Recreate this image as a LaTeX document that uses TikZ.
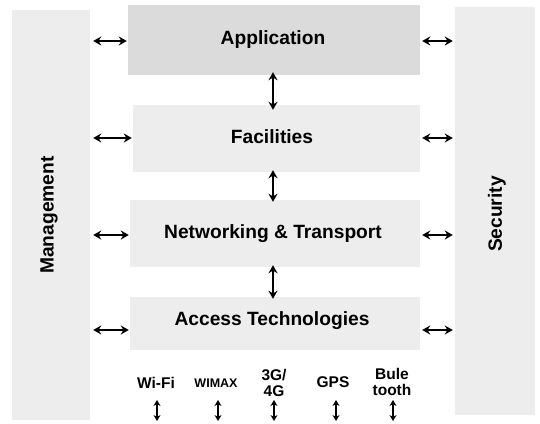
\documentclass[tikz,border=0pt]{standalone}
\usepackage{fontspec}
\setmainfont{Liberation Sans}
\usetikzlibrary{arrows.meta}
\begin{document}
\begin{tikzpicture}[x=1pt,y=-1pt,
  panel/.style={fill=black!7,draw=none,inner sep=0pt},
  densepanel/.style={fill=black!14,draw=none,inner sep=0pt},
  big/.style={font=\fontsize{19.2}{21}\selectfont\bfseries},
  small/.style={font=\fontsize{15.5}{16}\selectfont\bfseries,align=center},
  arr/.style={line width=2pt,{Stealth[length=8pt,width=9pt]}-{Stealth[length=8pt,width=9pt]}},
  sarr/.style={line width=1.6pt,{Stealth[length=6pt,width=7pt]}-{Stealth[length=6pt,width=7pt]}}]
\useasboundingbox (0,0) rectangle (540,423);
% side columns
\node[panel,minimum width=78pt,minimum height=410pt] (mgmt) at (51,215) {};
\node[panel,minimum width=80pt,minimum height=408pt] (sec) at (495,211) {};
\node[big,rotate=90] (mgmtlab) at (49,215) {Management};
\node[big,rotate=90] (seclab) at (497,214) {Security};
% layer boxes
\node[densepanel,minimum width=292pt,minimum height=70pt] (app) at (274,40) {};
\node[panel,minimum width=287pt,minimum height=67pt] (fac) at (276.5,138.5) {};
\node[panel,minimum width=290pt,minimum height=67pt] (net) at (275,233.5) {};
\node[panel,minimum width=290pt,minimum height=53pt] (acc) at (275,323.5) {};
\node[big] (applab) at (273,40) {Application};
\node[big] (faclab) at (272,137) {Facilities};
\node[big] (netlab) at (273,234) {Networking \& Transport};
\node[big] (acclab) at (272,321) {Access Technologies};
% horizontal arrows
\foreach \b/\y in {app/41,fac/138,net/235,acc/330}{
  \draw[arr] ([xshift=3pt]mgmt.east |- 0,\y) -- ([xshift=-1pt]\b.west |- 0,\y);
  \draw[arr] ([xshift=2pt]\b.east |- 0,\y) -- ([xshift=-2pt]sec.west |- 0,\y);
}
% vertical arrows between layers
\draw[arr] ([yshift=3pt]app.south -| 273,0) -- ([yshift=-5pt]fac.north -| 273,0);
\draw[arr] ([yshift=2pt]fac.south -| 273,0) -- ([yshift=-2pt]net.north -| 273,0);
\draw[arr] ([yshift=2pt]net.south -| 273,0) -- ([yshift=-2pt]acc.north -| 273,0);
% access technologies
\node[small] (wifi) at (156,383) {Wi-Fi};
\node[small,font=\fontsize{12.5}{13}\selectfont\bfseries] (wimax) at (216,383) {WIMAX};
\node[small] (g34) at (274,383) {3G/\\4G};
\node[small] (gps) at (333,382) {GPS};
\node[small] (bt) at (392,382) {Bule\\tooth};
\foreach \n/\x in {wifi/157,wimax/218,g34/274,gps/336,bt/393}{
  \coordinate (\n-a) at (\x,400);
  \coordinate (\n-b) at (\x,421);
  \draw[sarr] (\n-a) -- (\n-b);
}
\end{tikzpicture}
\end{document}
